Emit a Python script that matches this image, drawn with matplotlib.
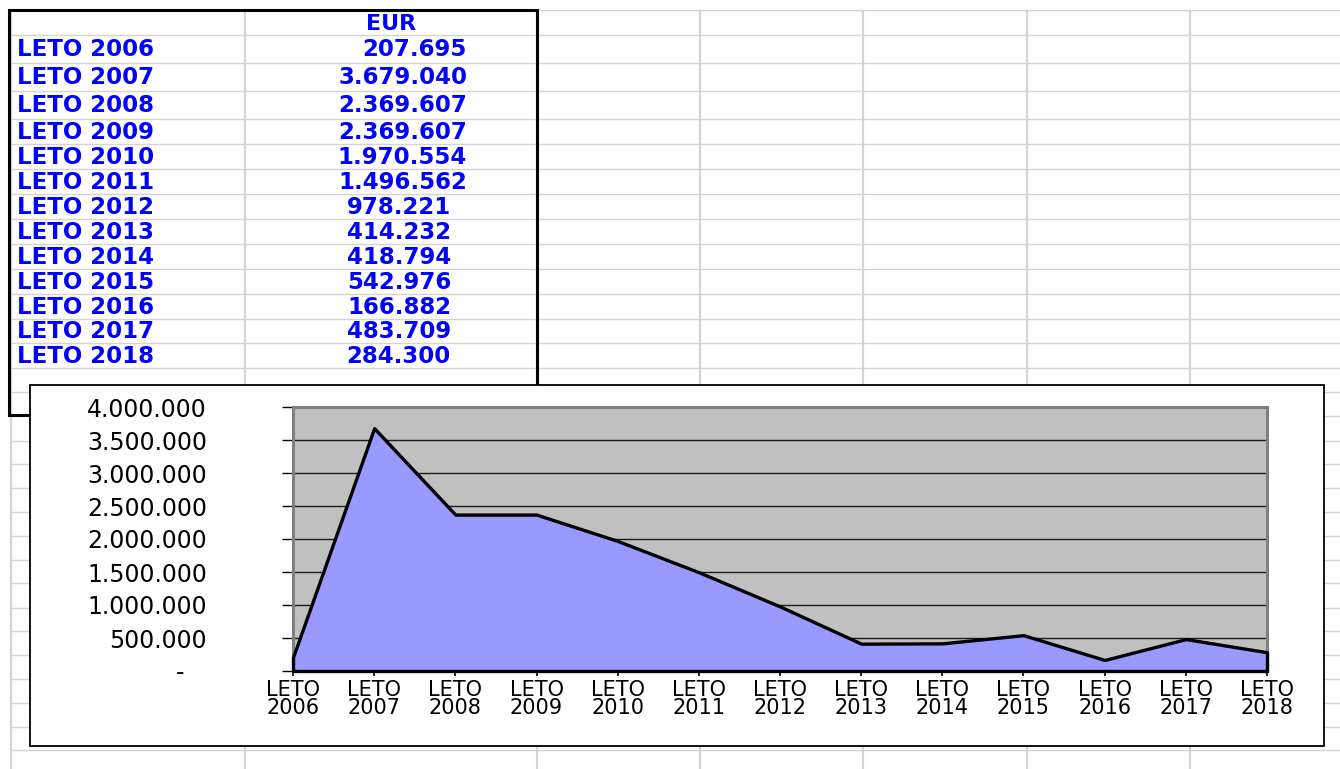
import matplotlib
matplotlib.use("Agg")
import matplotlib.pyplot as plt
from matplotlib.patches import Rectangle
from matplotlib.ticker import FuncFormatter, MultipleLocator

# data
years = ["LETO 2006", "LETO 2007", "LETO 2008", "LETO 2009", "LETO 2010",
         "LETO 2011", "LETO 2012", "LETO 2013", "LETO 2014", "LETO 2015",
         "LETO 2016", "LETO 2017", "LETO 2018"]
eur = [207695, 3679040, 2369607, 2369607, 1970554, 1496562, 978221,
       414232, 418794, 542976, 166882, 483709, 284300]
header = "EUR"

plt.rcParams["font.family"] = "DejaVu Sans"

W, H = 1340, 769
fig = plt.figure(figsize=(W / 100, H / 100), dpi=100)

# spreadsheet background in pixel coordinates
sheet = fig.add_axes([0, 0, 1, 1])
sheet.set_xlim(0, W)
sheet.set_ylim(H, 0)
sheet.axis("off")

row_lines = [10, 35, 63, 91, 119, 144, 169, 194, 219, 244, 269, 294, 319, 343,
             368, 392, 416, 441, 464, 488, 512, 536, 560, 583, 608, 631, 655,
             679, 703, 727, 750]
col_lines = [11, 245, 537, 700, 863, 1027, 1190]
grid_col = "#d4d4d4"
sheet.hlines(row_lines, 11, W, color=grid_col, lw=1.0, zorder=1)
sheet.vlines(col_lines, 10, H, color=grid_col, lw=1.6, zorder=1)
sheet.add_patch(Rectangle((9, 10), 528, 405, fill=False, ec="black", lw=2.2, zorder=2))

def thousands(v):
    return f"{v:,.0f}".replace(",", ".")

blue = "#0000ff"
sheet.text(391, (row_lines[0] + row_lines[1]) / 2 + 7, header, color=blue,
           fontsize=16, fontweight="bold", ha="center", va="baseline", zorder=2)
for i, (lbl, val) in enumerate(zip(years, eur)):
    yc = (row_lines[i + 1] + row_lines[i + 2]) / 2
    sheet.text(17, yc + 7.5, lbl, color=blue, fontsize=16.5, fontweight="bold",
               ha="left", va="baseline", zorder=2)
    xr = 467 if i < 6 else 451
    sheet.text(xr, yc + 7.5, thousands(val), color=blue, fontsize=16.5,
               fontweight="bold", ha="right", va="baseline", zorder=2)

# embedded chart box
sheet.add_patch(Rectangle((30, 385), 1294, 361, fc="white", ec="black", lw=1.3, zorder=3))

# chart plot area
ax = fig.add_axes([293 / W, 1 - 671 / H, (1267 - 293) / W, (671 - 407) / H])
x = list(range(len(eur)))
ax.fill_between(x, eur, color="#9999ff", ec="black", lw=2.4, zorder=3, clip_on=False)
ax.set_facecolor("#c0c0c0")
ax.set_xlim(0, len(eur) - 1)
ax.set_ylim(0, 4000000)
ax.yaxis.set_major_locator(MultipleLocator(500000))

def yfmt(v, pos):
    return "-   " if v == 0 else thousands(v)

ax.yaxis.set_major_formatter(FuncFormatter(yfmt))
ax.set_xticks(x)
ax.set_xticklabels([y.replace(" ", "\n") for y in years], linespacing=0.85)
ax.grid(axis="y", color="#1a1a1a", lw=1.0)
ax.set_axisbelow(True)
ax.tick_params(axis="y", length=8, width=1, pad=54, labelsize=17)
ax.tick_params(axis="x", length=3.6, width=1.2, pad=3, labelsize=15)
for s in ["top", "right", "left"]:
    ax.spines[s].set_color("#808080")
    ax.spines[s].set_linewidth(2.2)
ax.spines["bottom"].set_color("black")
ax.spines["bottom"].set_linewidth(1.8)

fig.savefig("out.png", dpi=100)
